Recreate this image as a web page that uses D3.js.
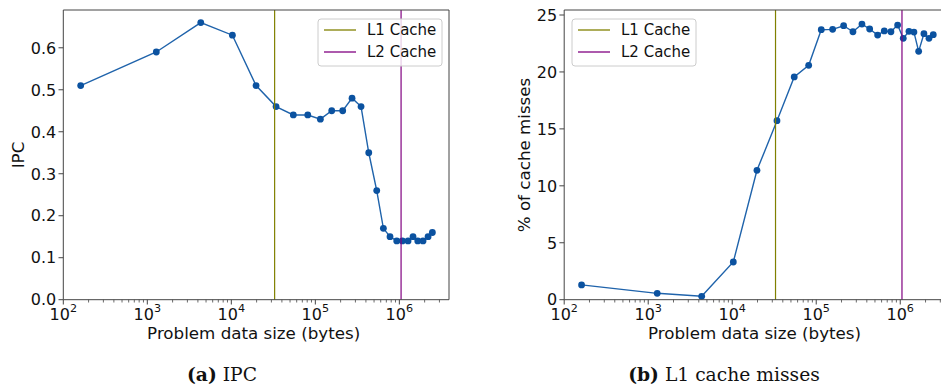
<!DOCTYPE html>
<html>
<head>
<meta charset="utf-8">
<script src="https://cdn.jsdelivr.net/npm/d3@7"></script>
<style>
  body { margin: 0; background: #fff; }
  svg { display: block; }
  text { font-family: "DejaVu Sans", sans-serif; fill: #111; }
  .caption { font-family: "DejaVu Serif", serif; font-size: 18.7px; }
</style>
</head>
<body>
<div id="chart"></div>
<script>
// problem sizes in bytes (same for both panels)
const sizes = [161, 1280, 4330, 10300, 19700, 34100, 54700, 81300, 114800, 156700,
  211800, 273500, 350000, 432500, 538000, 645700, 774500, 931000, 1086000,
  1270000, 1455000, 1656000, 1914000, 2198000, 2472000];

const ipc = [0.51, 0.59, 0.66, 0.63, 0.51, 0.46, 0.44, 0.44, 0.43, 0.45, 0.45,
  0.48, 0.46, 0.35, 0.26, 0.17, 0.15, 0.14, 0.14, 0.14, 0.15, 0.14, 0.14, 0.15, 0.16];

const missPct = [1.3, 0.56, 0.3, 3.31, 11.36, 15.72, 19.56, 20.58, 23.71, 23.74,
  24.06, 23.53, 24.2, 23.77, 23.24, 23.6, 23.53, 24.12, 22.95, 23.57, 23.5,
  21.81, 23.36, 22.95, 23.27];

const caches = [
  { name: "L1 Cache", bytes: 32768, color: "#808000" },
  { name: "L2 Cache", bytes: 1048576, color: "#800080" }
];

const ipcTicks = [0, 0.1, 0.2, 0.3, 0.4, 0.5, 0.6];
const missTicks = [0, 5, 10, 15, 20, 25];
const xTicks = [1e2, 1e3, 1e4, 1e5, 1e6];

const width = 941;
const height = 388;

const svg = d3.select("#chart")
  .append("svg")
  .attr("width", width)
  .attr("height", height);

function drawPanel(p) {
  const g = svg.append("g");

  const x = d3.scaleLog()
    .domain([100, 3.9e6])
    .range([p.left, p.left + 385.7]);
  const y = d3.scaleLinear()
    .domain(p.yDomain)
    .range([299.7, 10]);

  const top = 10, bottom = 299.7;
  const right = Math.min(p.left + 385.7, width);

  // minor log ticks
  const minors = [];
  for (let k = 2; k <= 6; k++) {
    for (let m = 2; m <= 9; m++) {
      const v = m * Math.pow(10, k);
      if (v < 3.9e6) minors.push(v);
    }
  }
  g.selectAll(".minor")
    .data(minors)
    .enter().append("line")
    .attr("x1", d => x(d)).attr("x2", d => x(d))
    .attr("y1", bottom).attr("y2", bottom + 2.8)
    .attr("stroke", "#444").attr("stroke-width", 0.8);

  // major x ticks
  g.selectAll(".xmajor")
    .data(xTicks)
    .enter().append("line")
    .attr("x1", d => x(d)).attr("x2", d => x(d))
    .attr("y1", bottom).attr("y2", bottom + 4.8)
    .attr("stroke", "#444").attr("stroke-width", 1);

  const xl = g.selectAll(".xlab")
    .data(xTicks)
    .enter().append("text")
    .attr("x", d => x(d))
    .attr("y", 320)
    .attr("text-anchor", "middle")
    .style("font-size", "16px");
  xl.append("tspan").text("10");
  xl.append("tspan")
    .attr("dy", -8)
    .style("font-size", "11.2px")
    .text(d => Math.round(Math.log10(d)));

  // y ticks
  g.selectAll(".ytick")
    .data(p.yTicks)
    .enter().append("line")
    .attr("x1", p.left - 4.8).attr("x2", p.left)
    .attr("y1", d => y(d)).attr("y2", d => y(d))
    .attr("stroke", "#444").attr("stroke-width", 1);

  g.selectAll(".ylab")
    .data(p.yTicks)
    .enter().append("text")
    .attr("x", p.left - 7)
    .attr("y", d => y(d))
    .attr("dy", "0.36em")
    .attr("text-anchor", "end")
    .style("font-size", "16px")
    .text(p.yFormat);

  // data
  const pts = sizes.map((s, i) => ({ s: s, v: p.values[i] }));
  const line = d3.line()
    .x(d => x(d.s))
    .y(d => y(d.v));

  g.append("path")
    .datum(pts)
    .attr("d", line)
    .attr("fill", "none")
    .attr("stroke", "#1f63ab")
    .attr("stroke-width", 1.4);

  g.selectAll(".pt")
    .data(pts)
    .enter().append("circle")
    .attr("cx", d => x(d.s))
    .attr("cy", d => y(d.v))
    .attr("r", 3.4)
    .attr("fill", "#0b52a0");

  // cache lines
  g.selectAll(".cache")
    .data(caches)
    .enter().append("line")
    .attr("x1", d => x(d.bytes)).attr("x2", d => x(d.bytes))
    .attr("y1", top).attr("y2", bottom)
    .attr("stroke", d => d.color)
    .attr("stroke-width", 1.2);

  // frame
  g.append("path")
    .attr("d", `M${p.left},${bottom}V${top}H${right}` +
      (p.left + 385.7 <= width ? `V${bottom}` : `M${right},${bottom}`) + `H${p.left}`)
    .attr("fill", "none")
    .attr("stroke", "#444")
    .attr("stroke-width", 1);

  // legend
  const lg = g.append("g").attr("transform", `translate(${p.legendX},19)`);
  lg.append("rect")
    .attr("width", 124).attr("height", 47)
    .attr("rx", 3)
    .attr("fill", "white").attr("fill-opacity", 0.8)
    .attr("stroke", "#ccc").attr("stroke-width", 1);
  caches.forEach((c, i) => {
    lg.append("line")
      .attr("x1", 6).attr("x2", 38)
      .attr("y1", 11 + i * 22).attr("y2", 11 + i * 22)
      .attr("stroke", c.color).attr("stroke-width", 1.3);
    lg.append("text")
      .attr("x", 49).attr("y", 11 + i * 22)
      .attr("dy", "0.36em")
      .style("font-size", "15px")
      .text(c.name);
  });

  // axis labels
  g.append("text")
    .attr("x", p.left + 385.7 / 2 - 2.5)
    .attr("y", 339)
    .attr("text-anchor", "middle")
    .style("font-size", "16.7px")
    .text("Problem data size (bytes)");

  g.append("text")
    .attr("transform", `translate(${p.yLabelX},155) rotate(-90)`)
    .attr("text-anchor", "middle")
    .style("font-size", "16.7px")
    .text(p.yLabel);

  // caption
  const cap = g.append("text")
    .attr("class", "caption")
    .attr("x", p.captionX)
    .attr("y", 381)
    .attr("text-anchor", "middle");
  cap.append("tspan").style("font-weight", "bold").text(p.capTag);
  cap.append("tspan").text(" " + p.capText);
}

drawPanel({
  left: 63.3,
  yDomain: [0, 0.69],
  yTicks: ipcTicks,
  yFormat: d3.format(".1f"),
  values: ipc,
  legendX: 318,
  yLabel: "IPC",
  yLabelX: 24,
  captionX: 222,
  capTag: "(a)",
  capText: "IPC"
});

drawPanel({
  left: 564.2,
  yDomain: [0, 25.44],
  yTicks: missTicks,
  yFormat: d3.format("d"),
  values: missPct,
  legendX: 572,
  yLabel: "% of cache misses",
  yLabelX: 530,
  captionX: 724,
  capTag: "(b)",
  capText: "L1 cache misses"
});
</script>
</body>
</html>
